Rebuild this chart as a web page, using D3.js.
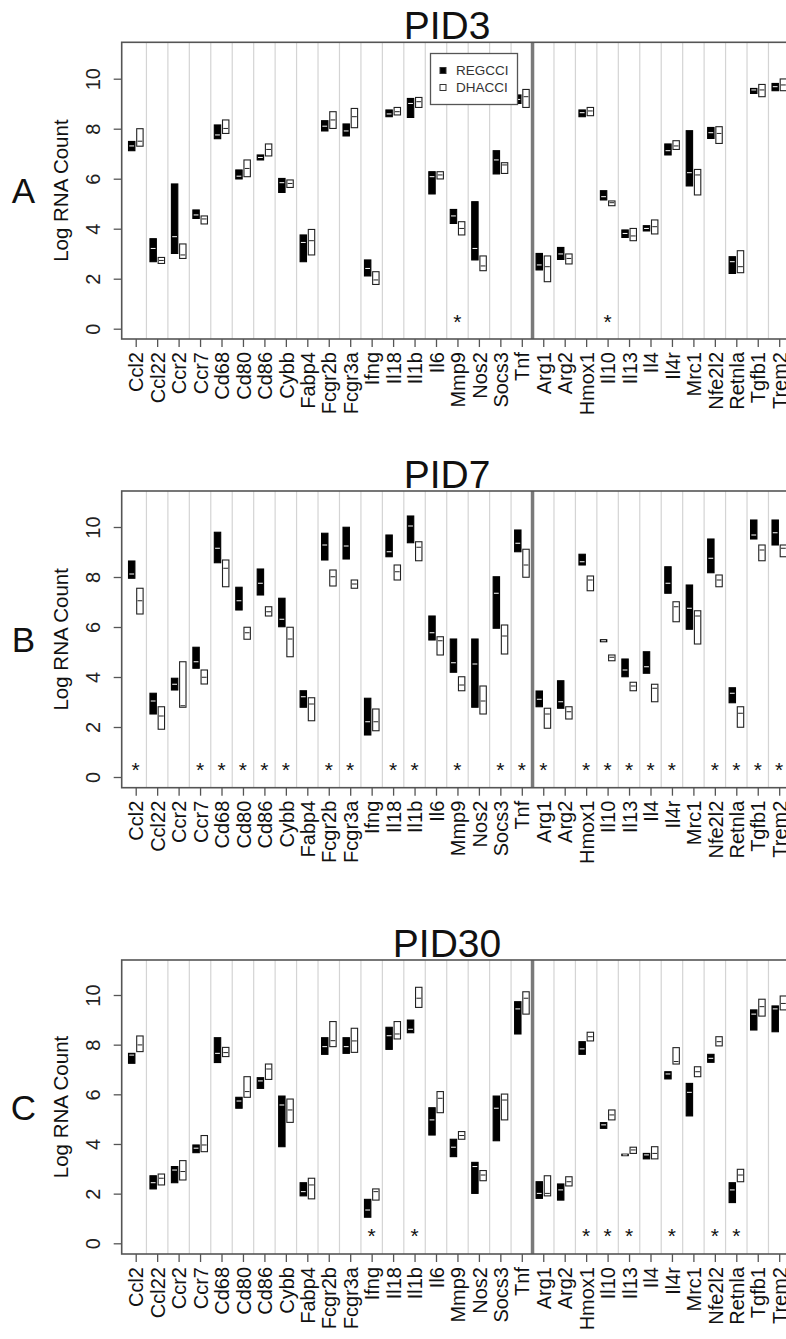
<!DOCTYPE html>
<html>
<head>
<meta charset="utf-8">
<script src="https://cdnjs.cloudflare.com/ajax/libs/d3/7.8.5/d3.min.js"></script>
<style>
  body { margin: 0; background: #fff; }
  svg text { font-family: "Liberation Sans", Arial, sans-serif; }
</style>
</head>
<body>
<div id="chart"></div>
<script>
// genes (x categories), divider after Tnf
var genes = ["Ccl2","Ccl22","Ccr2","Ccr7","Cd68","Cd80","Cd86","Cybb","Fabp4","Fcgr2b","Fcgr3a",
             "Ifng","Il18","Il1b","Il6","Mmp9","Nos2","Socs3","Tnf",
             "Arg1","Arg2","Hmox1","Il10","Il13","Il4","Il4r","Mrc1","Nfe2l2","Retnla","Tgfb1","Trem2"];
var yTicks = [0, 2, 4, 6, 8, 10];

// [low, median, high] per gene
var pid3Reg = [[7.12,7.31,7.49],[2.68,3.21,3.6],[3.01,3.68,5.79],[4.41,4.55,4.75],[7.6,7.75,8.15],[5.99,6.1,6.35],
  [6.75,6.85,6.95],[5.45,5.84,6.01],[2.68,3.45,3.75],[7.91,8.1,8.32],[7.71,7.91,8.19],[2.11,2.41,2.75],[8.48,8.59,8.75],
  [8.45,9.01,9.21],[5.39,6.08,6.28],[4.21,4.51,4.77],[2.75,3.21,5.08],[6.19,6.75,7.12],[9.01,9.17,9.35],
  [2.35,2.55,3.01],[2.77,2.99,3.25],[8.48,8.64,8.75],[5.15,5.28,5.52],[3.65,3.81,3.95],[3.91,4.01,4.12],
  [6.95,7.12,7.39],[5.71,6.24,7.92],[7.61,7.84,8.05],[2.21,2.68,2.88],[9.41,9.55,9.61],[9.52,9.68,9.81]];
var pid3Dha = [[7.3,7.5,8.0],[2.61,2.73,2.85],[2.81,2.95,3.39],[4.19,4.39,4.51],[7.81,8.01,8.35],[6.08,6.41,6.75],
  [6.91,7.17,7.39],[5.65,5.81,5.95],[2.95,3.52,3.97],[8.01,8.35,8.68],[8.04,8.48,8.81],[1.77,1.95,2.28],[8.55,8.68,8.85],
  [8.85,9.08,9.25],[5.99,6.15,6.28],[3.75,4.01,4.28],[2.32,2.51,2.91],[6.21,6.55,6.64],[8.85,9.28,9.57],
  [1.88,2.48,2.91],[2.59,2.81,2.99],[8.52,8.71,8.85],[4.92,5.04,5.11],[3.52,3.71,4.01],[3.79,4.08,4.35],
  [7.17,7.31,7.52],[5.35,6.15,6.37],[7.41,7.81,8.08],[2.24,2.48,3.12],[9.28,9.55,9.77],[9.52,9.75,9.99]];
var pid3Stars = ["Mmp9","Il10"];

var pid7Reg = [[7.95,8.12,8.64],[2.52,3.04,3.35],[3.48,3.71,3.95],[4.35,4.61,5.19],[8.57,9.15,9.79],[6.68,7.05,7.59],
  [7.28,7.75,8.32],[6.01,6.31,7.15],[2.79,3.21,3.45],[8.68,9.28,9.75],[8.72,9.24,9.99],[1.68,2.21,3.15],[8.81,9.01,9.68],
  [9.37,10.04,10.44],[5.48,5.77,6.44],[4.19,4.57,5.52],[2.79,4.52,5.52],[5.95,7.35,8.01],[9.01,9.35,9.88],
  [2.81,3.11,3.44],[2.75,3.01,3.85],[8.48,8.61,8.91],[5.41,5.45,5.49],[4.01,4.28,4.72],[4.15,4.41,5.01],
  [7.35,7.75,8.41],[5.91,6.75,7.68],[8.17,8.75,9.52],[2.97,3.35,3.57],[9.52,9.68,10.28],[9.28,9.77,10.28]];
var pid7Dha = [[6.52,7.05,7.55],[1.91,2.44,2.81],[2.79,2.85,4.61],[3.72,3.99,4.28],[7.61,8.35,8.68],[5.51,5.77,5.99],
  [6.44,6.61,6.81],[4.81,5.52,5.99],[2.25,2.92,3.17],[7.64,8.01,8.28],[7.55,7.72,7.88],[1.85,2.21,2.72],[7.88,8.21,8.48],
  [8.65,9.19,9.41],[4.88,5.45,5.61],[3.45,3.68,4.01],[2.52,3.04,3.64],[4.92,5.64,6.08],[7.99,8.48,9.11],
  [1.95,2.52,2.75],[2.32,2.61,2.81],[7.45,7.88,8.04],[4.65,4.79,4.88],[3.45,3.64,3.79],[3.01,3.55,3.71],
  [6.21,6.81,7.01],[5.32,6.44,6.65],[7.61,7.88,8.08],[1.99,2.55,2.81],[8.65,9.08,9.28],[8.81,9.15,9.28]];
var pid7Stars = ["Ccl2","Ccr7","Cd68","Cd80","Cd86","Cybb","Fcgr2b","Fcgr3a","Il18","Il1b","Mmp9","Socs3","Tnf",
  "Arg1","Hmox1","Il10","Il13","Il4","Il4r","Nfe2l2","Retnla","Tgfb1","Trem2"];

var pid30Reg = [[7.25,7.58,7.65],[2.19,2.44,2.72],[2.44,2.95,3.09],[3.65,3.83,3.96],[7.28,7.65,8.28],[5.44,5.73,5.88],
  [6.24,6.54,6.67],[3.89,5.57,5.93],[1.91,2.08,2.44],[7.61,7.92,8.28],[7.65,7.92,8.28],[1.05,1.34,1.77],[7.81,8.36,8.7],
  [8.48,8.62,8.99],[4.36,4.97,5.46],[3.49,3.87,4.19],[2.01,3.09,3.26],[4.13,5.44,5.93],[8.43,9.44,9.73],
  [1.81,2.01,2.48],[1.74,2.15,2.39],[7.61,7.83,8.12],[4.63,4.77,4.86],[3.53,3.56,3.59],[3.4,3.56,3.62],
  [6.62,6.82,6.91],[5.13,6.08,6.44],[7.29,7.45,7.61],[1.64,2.15,2.44],[8.59,9.23,9.4],[8.52,9.44,9.56]];
var pid30Dha = [[7.72,7.99,8.35],[2.35,2.62,2.79],[2.55,2.89,3.33],[3.69,3.96,4.34],[7.52,7.68,7.89],[5.88,6.11,6.71],
  [6.6,7.02,7.22],[4.87,5.37,5.81],[1.79,2.35,2.62],[7.92,8.16,8.93],[7.69,8.15,8.66],[1.74,2.08,2.19],[8.23,8.43,8.93],
  [9.5,9.87,10.31],[5.26,5.84,6.11],[4.19,4.34,4.5],[2.52,2.75,2.93],[4.97,5.77,6.01],[9.23,9.87,10.13],
  [1.91,2.01,2.72],[2.31,2.48,2.68],[8.15,8.32,8.5],[4.97,5.17,5.37],[3.62,3.76,3.87],[3.4,3.62,3.89],
  [7.22,7.32,7.88],[6.71,6.91,7.11],[7.95,8.12,8.32],[2.48,2.75,2.98],[9.15,9.53,9.83],[9.4,9.66,9.96]];
var pid30Stars = ["Ifng","Il1b","Hmox1","Il10","Il13","Il4r","Nfe2l2","Retnla"];

var legendLabels = ["REGCCI", "DHACCI"];

// svg size
var width = 786,
    height = 1339;

var svg = d3.select("#chart")
            .append("svg")
            .attr("width", width)
            .attr("height", height)
            .style("display", "block");

svg.append("rect").attr("width", width).attr("height", height).attr("fill", "#fff");

// x scale shared by all panels (right edge runs off the picture)
var xScale = d3.scalePoint()
               .domain(genes)
               .range([121.7, 793.2])
               .padding(0.653);
var step = xScale.step();

// panel layout: plot top/bottom and pixel pos of 0 and 10
var panels = [
  {title: "PID3",  letter: "A", reg: pid3Reg,  dha: pid3Dha,  stars: pid3Stars,  top: 42.3, bottom: 339,   y0: 328.7,  y10: 78.7, legend: true},
  {title: "PID7",  letter: "B", reg: pid7Reg,  dha: pid7Dha,  stars: pid7Stars,  top: 491,  bottom: 787.7, y0: 777,    y10: 527},
  {title: "PID30", letter: "C", reg: pid30Reg, dha: pid30Dha, stars: pid30Stars, top: 960,  bottom: 1254,  y0: 1243.3, y10: 995}
];

panels.forEach(drawPanel);

function drawPanel(p) {
  var left = xScale.range()[0],
      right = xScale.range()[1];
  var yScale = d3.scaleLinear().domain([0, 10]).range([p.y0, p.y10]);

  var g = svg.append("g");

  // grid lines between genes
  var mids = genes.slice(1).map(function(d, i) {
    return {x: (xScale(genes[i]) + xScale(d)) / 2, divider: d === "Arg1"};
  });
  g.selectAll(".grid")
   .data(mids.filter(function(d) { return !d.divider; }))
   .enter()
   .append("line")
   .attr("x1", function(d) { return d.x; })
   .attr("x2", function(d) { return d.x; })
   .attr("y1", p.top)
   .attr("y2", p.bottom)
   .attr("stroke", "#d4d4d4")
   .attr("stroke-width", 1.2);

  // thick divider between M1 and M2 genes
  g.selectAll(".divider")
   .data(mids.filter(function(d) { return d.divider; }))
   .enter()
   .append("line")
   .attr("x1", function(d) { return d.x; })
   .attr("x2", function(d) { return d.x; })
   .attr("y1", p.top)
   .attr("y2", p.bottom)
   .attr("stroke", "#7a7a7a")
   .attr("stroke-width", 3.5);

  // plot frame
  g.append("rect")
   .attr("x", left)
   .attr("y", p.top)
   .attr("width", right - left)
   .attr("height", p.bottom - p.top)
   .attr("fill", "none")
   .attr("stroke", "#555")
   .attr("stroke-width", 1.6);

  // boxes
  var bw = 6.4;
  drawBoxes(g, p.reg, yScale, -bw - 0.8, bw, "#000", "#000", "#fff");
  drawBoxes(g, p.dha, yScale, 1.0, bw, "#fff", "#222", "#222");

  // asterisks
  g.selectAll(".star")
   .data(p.stars)
   .enter()
   .append("text")
   .attr("x", function(d) { return xScale(d); })
   .attr("y", yScale(0.46) + 11.5)
   .attr("text-anchor", "middle")
   .attr("font-size", 21)
   .attr("fill", "#111")
   .text("*");

  // y axis
  var yAxis = g.append("g")
               .attr("transform", "translate(" + left + ",0)")
               .call(d3.axisLeft(yScale).tickValues(yTicks).tickSize(8).tickPadding(0));
  yAxis.select(".domain").remove();
  yAxis.selectAll(".tick line").attr("stroke", "#555").attr("stroke-width", 1.3);
  yAxis.selectAll(".tick text")
       .attr("x", 0)
       .attr("dy", 0)
       .attr("transform", "translate(-21.5,0) rotate(-90)")
       .attr("text-anchor", "middle")
       .attr("font-size", 20)
       .attr("fill", "#222");

  // x axis
  var xAxis = g.append("g")
               .attr("transform", "translate(0," + p.bottom + ")")
               .call(d3.axisBottom(xScale).tickSize(8).tickPadding(0));
  xAxis.select(".domain").remove();
  xAxis.selectAll(".tick line").attr("stroke", "#555").attr("stroke-width", 1.3);
  xAxis.selectAll(".tick text")
       .attr("y", 0)
       .attr("dy", 0)
       .attr("transform", "translate(7.2,13) rotate(-90)")
       .attr("text-anchor", "end")
       .attr("font-size", 20)
       .attr("fill", "#111");

  // axis label
  var cy = (p.top + p.bottom) / 2;
  g.append("text")
   .attr("transform", "translate(68," + cy + ") rotate(-90)")
   .attr("text-anchor", "middle")
   .attr("font-size", 20.5)
   .attr("fill", "#111")
   .text("Log RNA Count");

  // panel letter
  g.append("text")
   .attr("x", 23.5)
   .attr("y", cy + 12.5)
   .attr("text-anchor", "middle")
   .attr("font-size", 35)
   .attr("fill", "#111")
   .text(p.letter);

  // title
  g.append("text")
   .attr("x", 447)
   .attr("y", p.top - 3)
   .attr("text-anchor", "middle")
   .attr("font-size", 39)
   .attr("fill", "#111")
   .text(p.title);

  if (p.legend) drawLegend(g);
}

function drawBoxes(g, data, yScale, dx, bw, fill, stroke, medColor) {
  var rows = data.map(function(d, i) { return {gene: genes[i], lo: d[0], med: d[1], hi: d[2]}; });
  var sel = g.append("g").selectAll("g").data(rows).enter().append("g");
  sel.append("rect")
     .attr("x", function(d) { return xScale(d.gene) + dx; })
     .attr("y", function(d) { return yScale(d.hi); })
     .attr("width", bw)
     .attr("height", function(d) { return Math.max(1.5, yScale(d.lo) - yScale(d.hi)); })
     .attr("fill", fill)
     .attr("stroke", stroke)
     .attr("stroke-width", 1.1);
  sel.append("line")
     .attr("x1", function(d) { return xScale(d.gene) + dx + 0.8; })
     .attr("x2", function(d) { return xScale(d.gene) + dx + bw - 0.8; })
     .attr("y1", function(d) { return yScale(d.med); })
     .attr("y2", function(d) { return yScale(d.med); })
     .attr("stroke", medColor)
     .attr("stroke-width", 1);
}

function drawLegend(g) {
  g.append("rect")
   .attr("x", 430.5)
   .attr("y", 53.5)
   .attr("width", 87)
   .attr("height", 51)
   .attr("fill", "#fff")
   .attr("stroke", "#555")
   .attr("stroke-width", 1.3);
  var items = g.selectAll(".leg")
               .data(legendLabels)
               .enter()
               .append("g")
               .attr("transform", function(d, i) { return "translate(443," + (70.5 + i * 17) + ")"; });
  items.append("rect")
       .attr("x", -3)
       .attr("y", -3)
       .attr("width", 6)
       .attr("height", 6)
       .attr("fill", function(d, i) { return i === 0 ? "#000" : "#fff"; })
       .attr("stroke", "#333")
       .attr("stroke-width", 1);
  items.append("text")
       .attr("x", 13)
       .attr("y", 4.8)
       .attr("font-size", 13.5)
       .attr("fill", "#333")
       .text(function(d) { return d; });
}
</script>
</body>
</html>
